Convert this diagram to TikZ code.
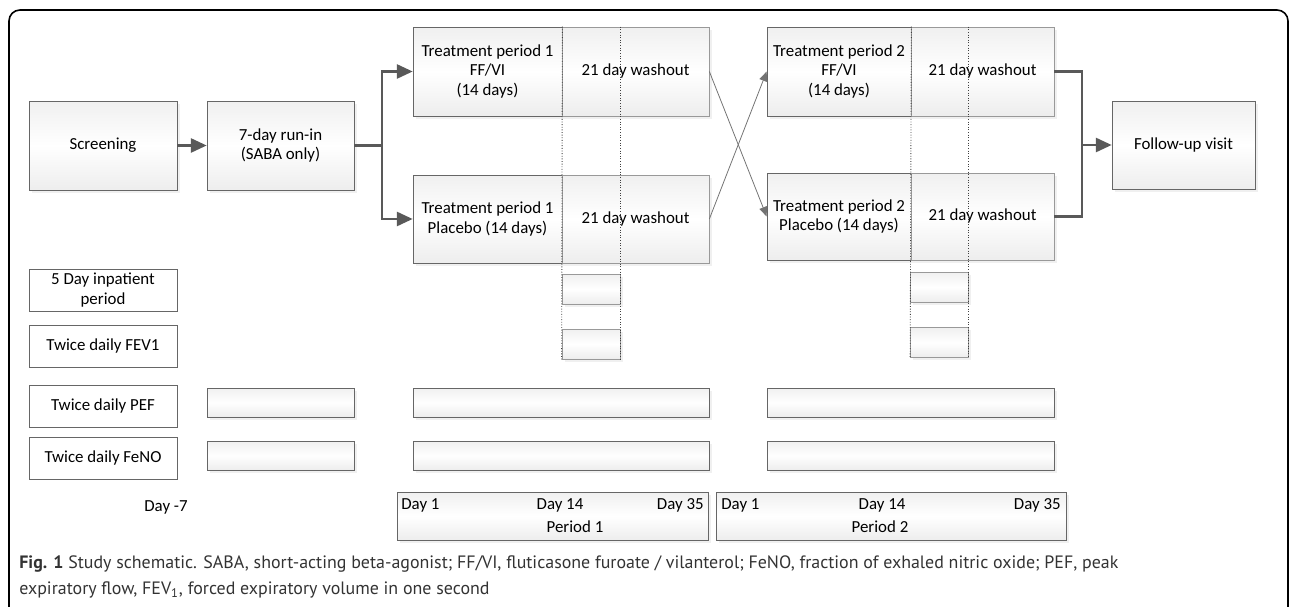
\documentclass[tikz,border=0pt]{standalone}
\usepackage{fontspec}
\setmainfont{Carlito}
\newfontfamily\capfont{PT Sans}
\usetikzlibrary{arrows.meta,shadows}

\begin{document}
\begin{tikzpicture}[x=0.02cm, y=-0.02cm,
    font=\fontsize{9.6}{11.3}\selectfont,
    stage/.style={draw=black!60, top color=black!6, bottom color=black!7,
      middle color=white, inner sep=0pt, align=center,
      drop shadow={shadow xshift=1.5pt, shadow yshift=-1.5pt, opacity=0.12}},
    wash/.style={stage, draw=black!40},
    rowlbl/.style={draw=black!60, fill=white, inner sep=0pt, align=center,
      minimum width=2.96cm, minimum height=0.84cm},
    bar/.style={stage, minimum height=0.58cm},
    slot/.style={stage, draw=black!40, minimum width=1.16cm, minimum height=0.6cm},
    flow/.style={draw=black!65, line width=1.4pt, -{Triangle[length=9pt,width=8pt]}},
    link/.style={draw=black!65, line width=1.4pt},
    cross/.style={draw=black!55, line width=0.45pt, -{Triangle[length=5.5pt,width=4.5pt]}},
    daymark/.style={draw=black!75, densely dotted, line width=0.5pt}]
  \useasboundingbox (0,0) rectangle (1290,607);
  \clip (0,0) rectangle (1290,607);
  \draw[line width=0.9pt, rounded corners=0.22cm] (9,10) rectangle (1288,660);

  % flow of the study
  \node[stage, minimum width=2.96cm, minimum height=1.78cm] (scr) at (103,145.5) {Screening};
  \node[stage, minimum width=2.94cm, minimum height=1.78cm] (run) at (280.5,145.5) {7-day run-in\\(SABA only)};
  \node[stage, minimum width=2.98cm, minimum height=1.78cm] (tp1a) at (487.5,71.5) {Treatment period 1\\FF/VI\\(14 days)};
  \node[wash, minimum width=2.94cm, minimum height=1.78cm] (wo1a) at (635.5,71.5) {21 day washout};
  \node[stage, minimum width=2.98cm, minimum height=1.76cm] (tp1b) at (487.5,219) {Treatment period 1\\Placebo (14 days)};
  \node[wash, minimum width=2.94cm, minimum height=1.76cm] (wo1b) at (635.5,219) {21 day washout};
  \node[stage, minimum width=2.88cm, minimum height=1.78cm] (tp2a) at (839,71.5) {Treatment period 2\\FF/VI\\(14 days)};
  \node[wash, minimum width=2.86cm, minimum height=1.78cm] (wo2a) at (982.5,71.5) {21 day washout};
  \node[stage, minimum width=2.88cm, minimum height=1.74cm] (tp2b) at (839,216.5) {Treatment period 2\\Placebo (14 days)};
  \node[wash, minimum width=2.86cm, minimum height=1.74cm] (wo2b) at (982.5,216.5) {21 day washout};
  \node[stage, minimum width=2.86cm, minimum height=1.76cm] (fu) at (1183.5,145) {Follow-up visit};

  % assessments
  \node[rowlbl] (ip) at (103,290) {5 Day inpatient\\period};
  \node[rowlbl] (fev) at (103,346) {Twice daily FEV1};
  \node[rowlbl] (pef) at (103,406) {Twice daily PEF};
  \node[rowlbl] (feno) at (103,458) {Twice daily FeNO};

  \node[slot] (ip1) at (591,289) {};
  \node[slot] (fv1) at (591,344) {};
  \node[slot] (ip2) at (939.5,287) {};
  \node[slot] (fv2) at (939.5,342.5) {};

  \node[bar, minimum width=2.94cm] (pef0) at (280.5,402.5) {};
  \node[bar, minimum width=5.92cm] (pef1) at (561,402.5) {};
  \node[bar, minimum width=5.74cm] (pef2) at (911,402.5) {};
  \node[bar, minimum width=2.94cm] (fen0) at (280.5,455.5) {};
  \node[bar, minimum width=5.92cm] (fen1) at (561,455.5) {};
  \node[bar, minimum width=5.74cm] (fen2) at (911,455.5) {};

  \draw[daymark] (tp1a.north east) -- (fv1.south west);
  \draw[daymark] (fv1.south east |- wo1a.north) -- (fv1.south east);
  \draw[daymark] (tp2a.north east) -- (fv2.south west);
  \draw[daymark] (fv2.south east |- wo2a.north) -- (fv2.south east);

  % arrows
  \coordinate (j1) at (382,145.5);
  \coordinate (j2) at (1082,145);
  \draw[flow] (scr) -- (run);
  \draw[link] (run.east) -- (j1);
  \draw[flow] (j1) |- (tp1a.west);
  \draw[flow] (j1) |- (tp1b.west);
  \draw[cross] (wo1a.east) -- (tp2b.west);
  \draw[cross] (wo1b.east) -- (tp2a.west);
  \draw[link] (wo2a.east) -| (j2);
  \draw[link] (wo2b.east) -| (j2);
  \draw[flow] (j2) -- (fu);

  % time line
  \node (dm7) at (166,507) {Day -7};
  \node[stage, minimum width=6.22cm, minimum height=0.96cm] (per1) at (552.5,516) {};
  \node[stage, minimum width=7.0cm, minimum height=0.96cm] (per2) at (891,516) {};
  \node[anchor=west, inner sep=0pt] (p1d1) at (401,505) {Day 1};
  \node (p1d14) at (560,505) {Day 14};
  \node[anchor=east, inner sep=0pt] (p1d35) at (704,505) {Day 35};
  \node (p1lbl) at (575,527) {Period 1};
  \node[anchor=west, inner sep=0pt] (p2d1) at (721,505) {Day 1};
  \node (p2d14) at (882,505) {Day 14};
  \node[anchor=east, inner sep=0pt] (p2d35) at (1061,505) {Day 35};
  \node (p2lbl) at (880,527) {Period 2};

  % caption
  \node[anchor=north west, inner sep=0pt, align=left, text=black!80,
    font=\capfont\fontsize{10.2}{15.3}\selectfont] (cap) at (19,555)
    {\textbf{Fig. 1} Study schematic. SABA, short-acting beta-agonist; FF/VI, fluticasone furoate / vilanterol; FeNO, fraction of exhaled nitric oxide; PEF, peak\\
     expiratory flow, FEV\textsubscript{1}, forced expiratory volume in one second};
\end{tikzpicture}
\end{document}
